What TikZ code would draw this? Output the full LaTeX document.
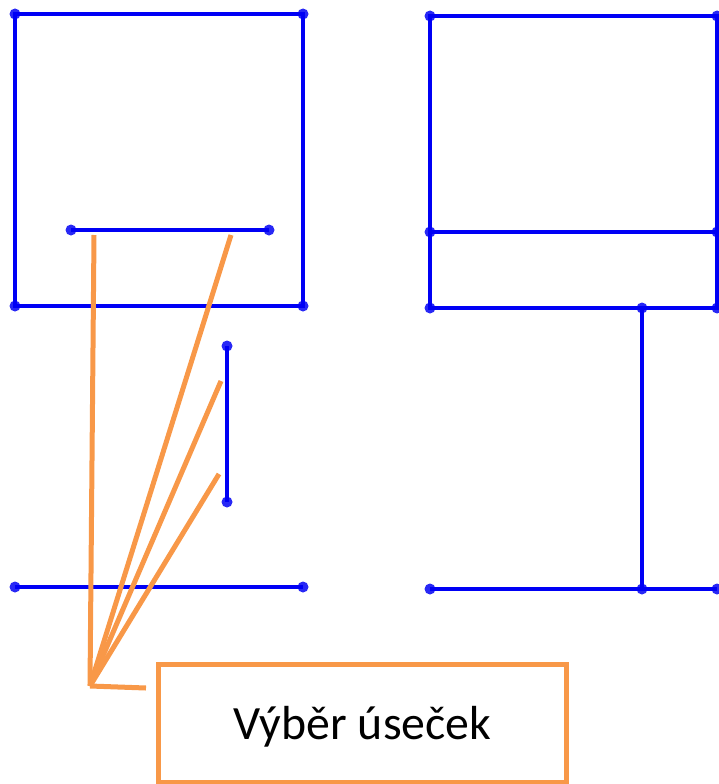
\documentclass[tikz,border=0pt]{standalone}
\usepackage{fontspec}
\setmainfont{Carlito}
\definecolor{segblue}{RGB}{0,0,245}
\definecolor{dotblue}{RGB}{40,40,245}
\definecolor{calloutorange}{RGB}{248,152,72}
\begin{document}
\begin{tikzpicture}[x=1pt,y=-1pt,ele/.style={fill=dotblue,circle,minimum
        width=11pt,inner sep=0pt},seg/.style={draw=segblue,line width=3.6pt},
        callout/.style={draw=calloutorange,line width=5pt}]

    \clip (0,0) rectangle (719,784);

    % the left drawing

    \node[ele] (A1) at (15,14) {};
    \node[ele] (B1) at (303,14) {};
    \node[ele] (C1) at (303,306) {};
    \node[ele] (D1) at (15,306) {};
    \node[ele] (E1) at (71,230) {};
    \node[ele] (F1) at (269,230) {};
    \node[ele] (G1) at (227,346) {};
    \node[ele] (H1) at (227,502) {};
    \node[ele] (I1) at (15,587) {};
    \node[ele] (J1) at (303,587) {};

    \draw[seg] (A1.center) -- (B1.center) -- (C1.center) -- (D1.center) -- cycle;
    \draw[seg] (E1.center) -- (F1.center);
    \draw[seg] (G1.center) -- (H1.center);
    \draw[seg] (I1.center) -- (J1.center);

    % the right drawing

    \node[ele] (A2) at (430,16) {};
    \node[ele] (B2) at (717,16) {};
    \node[ele] (C2) at (717,308) {};
    \node[ele] (D2) at (430,308) {};
    \node[ele] (E2) at (430,232) {};
    \node[ele] (F2) at (717,232) {};
    \node[ele] (G2) at (642,308) {};
    \node[ele] (H2) at (642,589) {};
    \node[ele] (I2) at (430,589) {};
    \node[ele] (J2) at (717,589) {};

    \draw[seg] (A2.center) -- (B2.center) -- (C2.center) -- (D2.center) -- cycle;
    \draw[seg] (E2.center) -- (F2.center);
    \draw[seg] (G2.center) -- (H2.center);
    \draw[seg] (I2.center) -- (J2.center);

    % the callout

    \node[callout,minimum width=408pt,minimum height=118pt,inner sep=0pt,
        text height=32pt,text depth=0pt,
        font=\fontsize{47.8}{56}\selectfont] (V) at (362.5,723) {Výběr úseček};

    \coordinate (T) at (90,686);
    \coordinate (P1) at (94,235);
    \coordinate (P2) at (231,235);
    \coordinate (P3) at (221,381);
    \coordinate (P4) at (219,474);
    \coordinate (P5) at (146,688);

    \draw[callout] (P1) -- (T);
    \draw[callout] (P2) -- (T);
    \draw[callout] (P3) -- (T);
    \draw[callout] (P4) -- (T);
    \draw[callout] (P5) -- (T);
  \end{tikzpicture}
\end{document}
